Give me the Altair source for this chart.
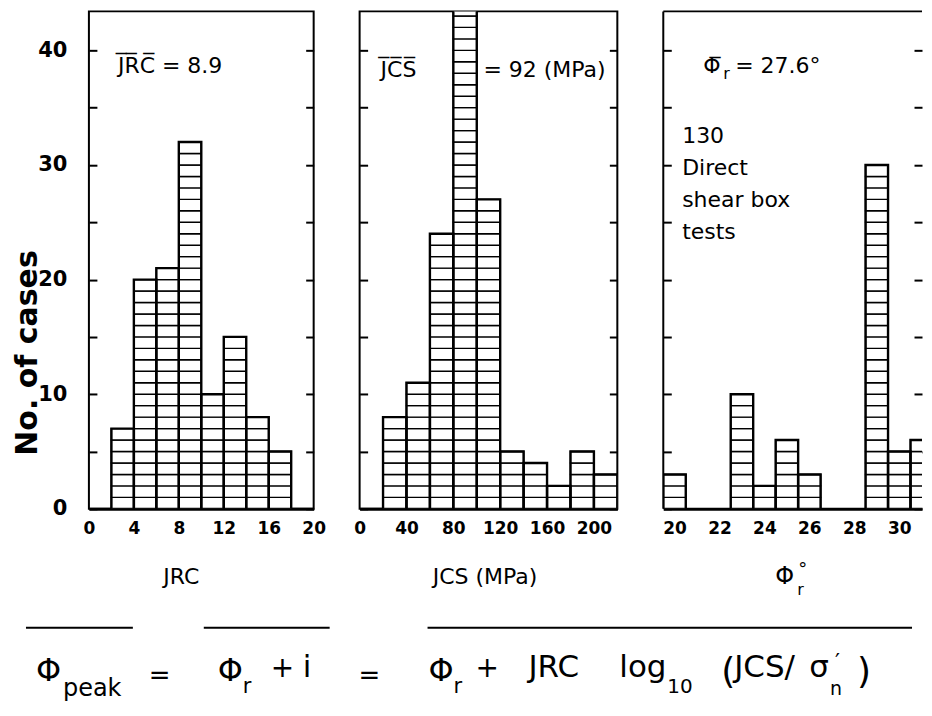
import altair as alt
import pandas as pd

# ---------------- data ----------------
jrc_starts = [2, 4, 6, 8, 10, 12, 14, 16]          # bins of width 2
jrc_counts = [7, 20, 21, 32, 10, 15, 8, 5]
jcs_starts = [20, 40, 60, 80, 100, 120, 140, 160, 180, 200]   # bins of width 20 MPa
jcs_counts = [8, 11, 24, 44, 27, 5, 4, 2, 5, 3]
phi_centers = [20, 23, 24, 25, 26, 29, 30, 31]     # 1-degree bins centred on value
phi_counts = [3, 10, 2, 6, 3, 30, 5, 6]

jrc_ticks = [0, 4, 8, 12, 16, 20]
jcs_ticks = [0, 40, 80, 120, 160, 200]
phi_ticks = [20, 22, 24, 26, 28, 30]
y_ticks = [0, 5, 10, 15, 20, 25, 30, 35, 40]

FONT = "DejaVu Sans"
YMAX = 43.4
H = 498
W1, W2, W3 = 225, 258, 259


def cell_table(starts, counts, width):
    rows = []
    for s, n in zip(starts, counts):
        for k in range(n):
            rows.append({"x": s, "x2": s + width, "y": k, "y2": k + 1})
    return pd.DataFrame(rows)


def bar_table(starts, counts, width):
    return pd.DataFrame({"x": starts, "x2": [s + width for s in starts],
                         "y": [0] * len(starts), "y2": counts})


def panel(cells_df, bars_df, xdom, width, xvals, xtitle, title_x, ylabels, extra=()):
    xs = alt.Scale(domain=xdom, nice=False, zero=False)
    ys = alt.Scale(domain=[0, YMAX], nice=False, zero=True)
    axis_kw = dict(values=xvals, ticks=False, tickSize=0, domainWidth=3,
                   labelFontSize=17, labelFontWeight="bold", labelPadding=12,
                   labelFlush=False)
    if xtitle:
        xaxis = alt.Axis(title=xtitle, titleX=title_x, titleY=75, titleAlign="center",
                         titleBaseline="alphabetic", titleFontSize=22,
                         titleFontWeight="normal", **axis_kw)
    else:
        xaxis = alt.Axis(title=None, **axis_kw)
    yleft = alt.Axis(values=y_ticks, orient="left", offset=-8, tickSize=8, tickWidth=2,
                     domain=False, labels=ylabels,
                     labelExpr="datum.value % 10 === 0 ? datum.label : ''",
                     labelFontSize=21, labelFontWeight="bold", labelPadding=22, title=None)
    yright = alt.Axis(values=y_ticks, orient="right", offset=-8, tickSize=8, tickWidth=2,
                      domain=False, labels=False, title=None)
    cells = alt.Chart(cells_df).mark_rect(fill="white", stroke="black", strokeWidth=1.4,
                                          clip=True).encode(
        x=alt.X("x:Q", scale=xs, axis=xaxis), x2="x2:Q",
        y=alt.Y("y:Q", scale=ys, axis=yleft), y2="y2:Q")
    outline = alt.Chart(bars_df).mark_rect(fillOpacity=0, stroke="black", strokeWidth=2.4,
                                           clip=True).encode(
        x=alt.X("x:Q", scale=xs, axis=None), x2="x2:Q",
        y=alt.Y("y:Q", scale=ys, axis=yright), y2="y2:Q")
    layers = [cells, outline]
    for e in extra:
        layers.append(e(xs, ys))
    return alt.layer(*layers).resolve_axis(x="independent", y="independent").properties(
        width=width, height=H)


dummy = pd.DataFrame({"k": [0]})


def note(text, xv, yv, size=22, baseline="middle", **kw):
    def f(xs, ys):
        return alt.Chart(dummy).mark_text(text=text, align="left", baseline=baseline,
                                          fontSize=size, font=FONT, color="black", **kw).encode(
            x=alt.X(datum=xv, scale=xs, axis=None), y=alt.Y(datum=yv, scale=ys, axis=None))
    return f


def px_text(text, x, y, size, weight="normal", angle=0, align="left", baseline="alphabetic"):
    def f(xs, ys):
        return alt.Chart(dummy).mark_text(text=text, align=align, baseline=baseline,
                                          fontSize=size, fontWeight=weight, angle=angle,
                                          font=FONT, color="black").encode(
            x=alt.value(x), y=alt.value(y))
    return f


def px_line(x1, x2, y, w=2):
    def f(xs, ys):
        return alt.Chart(dummy).mark_rule(color="black", strokeWidth=w).encode(
            x=alt.value(x1), x2=alt.value(x2), y=alt.value(y))
    return f


def px_vline(x, y1, y2, w=2):
    def f(xs, ys):
        return alt.Chart(dummy).mark_rule(color="black", strokeWidth=w).encode(
            x=alt.value(x), y=alt.value(y1), y2=alt.value(y2))
    return f


# formula below the panels (positions relative to the first panel's plot area)
formula = [
    px_line(-63, 44, 617), px_line(115, 241, 617), px_line(339, 824, 617),
    px_text("Φ", -53, 670, 32), px_text("peak", -26, 685, 24),
    px_text("=", 60, 673, 26),
    px_text("Φ", 129, 670, 32), px_text("r", 154, 682, 21), px_text("+", 182, 666, 28),
    px_text("i", 214, 666, 31),
    px_text("=", 270, 673, 26),
    px_text("Φ", 340, 670, 32), px_text("r", 365, 682, 21), px_text("+", 387, 666, 28),
    px_text("JRC", 440, 666, 31), px_text("log", 531, 666, 31), px_text("10", 579, 682, 20),
    px_text("(", 633, 672, 36), px_text("JCS/", 646, 666, 31), px_text("σ", 721, 666, 31),
    px_text("′", 747, 658, 22), px_text("n", 742, 684, 19), px_text(")", 769, 672, 36),
]

p1_extra = [
    note("J\u0305R\u0305C\u0305 = 8.9", 2.58, 38.6),
    px_text("No. of cases", -61, 342, 30, weight="bold", angle=270, align="center",
            baseline="middle"),
] + formula

p1 = panel(cell_table(jrc_starts, jrc_counts, 2), bar_table(jrc_starts, jrc_counts, 2),
           [0, 20], W1, jrc_ticks, "JRC", 92, True, p1_extra)

p2_extra = [
    note("J\u0305C\u0305S\u0305", 17.9, 38.3),
    note("= 92 (MPa)", 105.7, 38.3),
]
p2 = panel(cell_table(jcs_starts, jcs_counts, 20), bar_table(jcs_starts, jcs_counts, 20),
           [0, 220], W2, jcs_ticks, "JCS (MPa)", 125, False, p2_extra)

phi_starts = [c - 0.5 for c in phi_centers]
p3_extra = [
    note("Φ\u0305", 21.28, 38.6),
    note("r", 22.17, 37.9, size=16),
    note("= 27.6°", 22.7, 38.6),
    note("130\nDirect\nshear box\ntests", 20.34, 33.4, baseline="top", lineBreak="\n",
         lineHeight=32),
    px_line(0, W3, 0), px_vline(0, 0, H),
    # axis title  Φ r °
    px_text("Φ", 112, 573, 24), px_text("r", 134, 584, 16), px_text("°", 135, 564, 18),
]
p3 = panel(cell_table(phi_starts, phi_counts, 1), bar_table(phi_starts, phi_counts, 1),
           [19.5, 19.5 + W3 / 22.5], W3, phi_ticks, None, 0, False, p3_extra).properties(
    view=alt.ViewBackground(stroke="transparent"))

chart = alt.hconcat(p1, p2, p3, spacing=46, bounds="flush").properties(
    padding={"left": 4, "top": 1, "right": 0, "bottom": 0}
).configure_view(stroke="black", strokeWidth=2).configure_axis(
    labelColor="black", titleColor="black", tickColor="black", domainColor="black",
    grid=False, labelFont=FONT, titleFont=FONT)

chart.save("out.html", embed_options={"renderer": "svg", "actions": False})
